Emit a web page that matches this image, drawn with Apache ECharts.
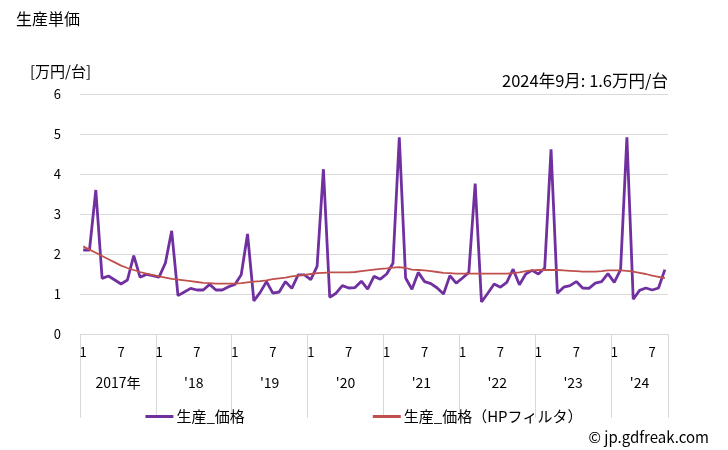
<!DOCTYPE html>
<html><head><meta charset="utf-8">
<script src="https://cdn.jsdelivr.net/npm/echarts@6/dist/echarts.min.js"></script>
<style>html,body{margin:0;padding:0;background:#fff}#c{width:728px;height:450px}</style>
</head><body><div id="c"></div>
<script>
// Months: Jan 2017 .. Sep 2024
const years = [2017,2018,2019,2020,2021,2022,2023,2024];
const monthsInYear = [12,12,12,12,12,12,12,9];
const yearLabels = ['2017年',"'18","'19","'20","'21","'22","'23","'24"];
const monthTickLabels = ['1','7'];
const price = [
  2.10,2.10,3.60,1.39,1.45,1.35,1.25,1.35,1.96,1.42,1.49,1.46,
  1.42,1.77,2.58,0.96,1.05,1.14,1.10,1.10,1.24,1.10,1.10,1.18,
  1.24,1.48,2.50,0.83,1.04,1.31,1.02,1.05,1.31,1.14,1.48,1.48,
  1.36,1.69,4.12,0.92,1.02,1.21,1.15,1.16,1.32,1.12,1.44,1.37,
  1.50,1.77,4.92,1.40,1.12,1.54,1.31,1.26,1.15,1.00,1.46,1.27,
  1.40,1.54,3.76,0.80,1.02,1.25,1.17,1.29,1.62,1.23,1.50,1.59,
  1.50,1.65,4.62,1.02,1.17,1.21,1.31,1.15,1.14,1.27,1.31,1.51,
  1.29,1.61,4.92,0.87,1.09,1.15,1.10,1.15,1.61
];
const trend = [
  2.19,2.11,2.03,1.95,1.87,1.79,1.71,1.65,1.60,1.55,1.51,1.47,
  1.44,1.41,1.38,1.36,1.34,1.32,1.30,1.28,1.27,1.26,1.26,1.26,
  1.26,1.27,1.29,1.31,1.32,1.34,1.37,1.39,1.41,1.44,1.46,1.48,
  1.50,1.52,1.53,1.54,1.54,1.54,1.54,1.55,1.57,1.59,1.61,1.63,
  1.64,1.66,1.67,1.65,1.61,1.60,1.59,1.57,1.55,1.53,1.52,1.51,
  1.51,1.51,1.51,1.51,1.51,1.51,1.51,1.51,1.52,1.54,1.57,1.59,
  1.60,1.60,1.60,1.60,1.59,1.58,1.57,1.56,1.56,1.56,1.57,1.59,
  1.59,1.59,1.58,1.56,1.53,1.50,1.46,1.43,1.40
];
const yTicks = [0,1,2,3,4,5,6];

const categories = [];
const monthOf = [];
years.forEach((y,i)=>{ for(let m=1;m<=monthsInYear[i];m++){ categories.push(y+'-'+m); monthOf.push(m);} });
const N = categories.length;
const yearMid = {};
let start = 0;
monthsInYear.forEach((c,i)=>{ yearMid[(start + c/2).toFixed(1)] = yearLabels[i]; start += c; });

const FONT = '"Noto Sans CJK JP", "Noto Sans", sans-serif';
const chart = echarts.init(document.getElementById('c'), null, {renderer:'canvas'});
chart.setOption({
  animation:false,
  textStyle:{fontFamily:FONT},
  title:[
    {text:'生産単価', left:11, top:6, textStyle:{fontSize:16, fontWeight:'normal', color:'#000', fontFamily:FONT}},
    {text:'[万円/台]', left:25, top:59, textStyle:{fontSize:15, fontWeight:'normal', color:'#000', fontFamily:FONT}},
    {text:'2024年9月: 1.6万円/台', right:55, top:67, textStyle:{fontSize:16.5, fontWeight:'normal', color:'#000', fontFamily:FONT}},
    {text:'© jp.gdfreak.com', right:14, top:425, textStyle:{fontSize:15, fontWeight:'normal', color:'#000', fontFamily:FONT}}
  ],
  grid:{left:80, right:60, top:94, bottom:116},
  legend:{
    bottom:21, left:'center', itemGap:128, itemWidth:28, itemHeight:3,
    icon:'rect',
    textStyle:{fontSize:15, color:'#000', fontFamily:FONT, padding:[0,0,0,-2]},
    data:['生産_価格','生産_価格（HPフィルタ）']
  },
  xAxis:[
    {type:'category', data:categories, boundaryGap:true,
     axisLine:{show:true, lineStyle:{color:'#d9d9d9'}},
     axisTick:{show:false},
     axisLabel:{interval:0, margin:12, fontSize:13, color:'#000', fontFamily:FONT,
       formatter:(v,i)=>{ const m = monthOf[i]; return monthTickLabels.indexOf(String(m))>=0 ? String(m) : ''; }},
     splitLine:{show:false}},
    {type:'value', min:0, max:N, interval:1.5, position:'bottom',
     axisLine:{show:false}, axisTick:{show:false}, splitLine:{show:false},
     axisLabel:{margin:42, fontSize:14, color:'#000', fontFamily:FONT, showMinLabel:true, showMaxLabel:true,
       formatter:(v)=> yearMid[Number(v).toFixed(1)] || ''}},
    {type:'value', min:0, max:N, interval:12, position:'bottom',
     axisLine:{show:false}, splitLine:{show:false}, axisLabel:{show:false},
     axisTick:{show:true, length:84, lineStyle:{color:'#d9d9d9'}}}
  ],
  yAxis:{type:'value', min:yTicks[0], max:yTicks[yTicks.length-1], interval:1,
    axisLine:{show:false}, axisTick:{show:false},
    axisLabel:{fontSize:13, color:'#000', margin:19, fontFamily:FONT},
    splitLine:{lineStyle:{color:'#d9d9d9'}}},
  series:[
    {name:'生産_価格', type:'line', data:price, xAxisIndex:0, symbol:'none',
     lineStyle:{color:'#7030A0', width:2.8}, itemStyle:{color:'#7030A0'}},
    {name:'生産_価格（HPフィルタ）', type:'line', data:trend, xAxisIndex:0, symbol:'none',
     lineStyle:{color:'#C0504D', width:1.8}, itemStyle:{color:'#C0504D'}}
  ]
});
</script></body></html>
